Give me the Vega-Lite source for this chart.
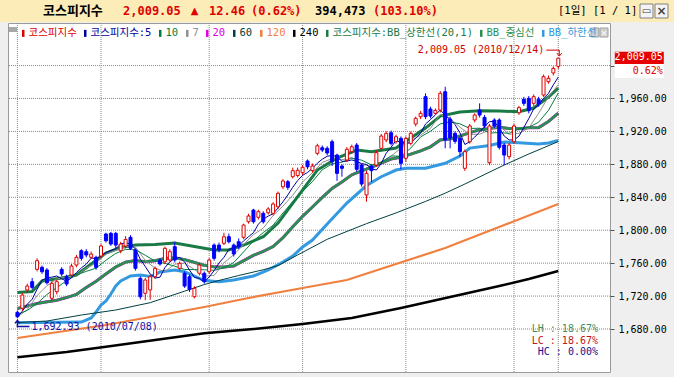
{
"$schema":"https://vega.github.io/schema/vega-lite/v6.json",
"width":602,"height":349,"autosize":"none",
"padding":{"left":8,"top":23,"right":64,"bottom":5},
"background":"#efefef",
"config":{"view":{"stroke":"#9a9a9a","fill":"#ffffff"}},
"resolve":{"axis":{"x":"independent","y":"independent"}},
"datasets":{
"gy":[{"v":1680},{"v":1720},{"v":1760},{"v":1800},{"v":1840},{"v":1880},{"v":1920},{"v":1960},{"v":2000}],
"gx":[{"i":0},{"i":17},{"i":39},{"i":58},{"i":79},{"i":101},{"i":110}],
"k":[
{"i":0,"o":1700.3,"h":1702.5,"l":1692.93,"c":1695},
{"i":1,"o":1705.1,"h":1723.5,"l":1702,"c":1721.3},
{"i":2,"o":1727.4,"h":1735,"l":1724,"c":1732.2},
{"i":3,"o":1737.5,"h":1742,"l":1728,"c":1730.6},
{"i":4,"o":1752.5,"h":1766,"l":1750,"c":1763},
{"i":5,"o":1754.9,"h":1757,"l":1747,"c":1749.6},
{"i":6,"o":1751.7,"h":1754,"l":1734,"c":1736.2},
{"i":7,"o":1717.3,"h":1738,"l":1714,"c":1735.5},
{"i":8,"o":1725.3,"h":1740,"l":1722,"c":1737.5},
{"i":9,"o":1752.5,"h":1755,"l":1744,"c":1746.8},
{"i":10,"o":1743.5,"h":1746,"l":1732,"c":1734.7},
{"i":11,"o":1745.6,"h":1759,"l":1743,"c":1756.5},
{"i":12,"o":1757.7,"h":1770,"l":1755,"c":1767.1},
{"i":13,"o":1775.1,"h":1777,"l":1763,"c":1765.9},
{"i":14,"o":1773.9,"h":1777,"l":1767,"c":1769.9},
{"i":15,"o":1767.1,"h":1774,"l":1765,"c":1771.1},
{"i":16,"o":1767.1,"h":1769,"l":1752,"c":1754.9},
{"i":17,"o":1768.7,"h":1783,"l":1766,"c":1780.8},
{"i":18,"o":1795.4,"h":1797,"l":1785,"c":1787.2},
{"i":19,"o":1796.2,"h":1798,"l":1781,"c":1783.2},
{"i":20,"o":1796.2,"h":1798,"l":1778,"c":1782},
{"i":21,"o":1775.1,"h":1786,"l":1772,"c":1783.2},
{"i":22,"o":1780.8,"h":1793,"l":1778,"c":1788.9},
{"i":23,"o":1791.4,"h":1794,"l":1776,"c":1778},
{"i":24,"o":1776,"h":1778,"l":1751,"c":1753.7},
{"i":25,"o":1741.6,"h":1744,"l":1716,"c":1719.2},
{"i":26,"o":1723.4,"h":1742,"l":1715,"c":1739.5},
{"i":27,"o":1727.4,"h":1746,"l":1715.5,"c":1743.5},
{"i":28,"o":1743.5,"h":1756,"l":1741,"c":1753.7},
{"i":29,"o":1763.8,"h":1766,"l":1757,"c":1759},
{"i":30,"o":1761.7,"h":1780,"l":1759,"c":1778},
{"i":31,"o":1763.8,"h":1777,"l":1761,"c":1773.9},
{"i":32,"o":1780,"h":1786,"l":1761,"c":1763.8},
{"i":33,"o":1753.7,"h":1762,"l":1751,"c":1759.8},
{"i":34,"o":1747.7,"h":1750,"l":1730,"c":1732.2},
{"i":35,"o":1743.5,"h":1746,"l":1725,"c":1728.2},
{"i":36,"o":1719.2,"h":1732,"l":1717.3,"c":1729.4},
{"i":37,"o":1747.7,"h":1760,"l":1745,"c":1757.7},
{"i":38,"o":1747.7,"h":1750,"l":1735,"c":1737.5},
{"i":39,"o":1749.6,"h":1766,"l":1747,"c":1763.8},
{"i":40,"o":1782,"h":1784,"l":1763,"c":1765.9},
{"i":41,"o":1782,"h":1785,"l":1773,"c":1776},
{"i":42,"o":1784.1,"h":1797,"l":1782,"c":1792.1},
{"i":43,"o":1792.1,"h":1796,"l":1784,"c":1786},
{"i":44,"o":1782,"h":1784,"l":1768,"c":1771.1},
{"i":45,"o":1786,"h":1790,"l":1777,"c":1780},
{"i":46,"o":1791.4,"h":1808,"l":1789,"c":1806.3},
{"i":47,"o":1810.3,"h":1820,"l":1808,"c":1817.3},
{"i":48,"o":1824.5,"h":1826,"l":1808,"c":1810.3},
{"i":49,"o":1815.7,"h":1825,"l":1813,"c":1822.5},
{"i":50,"o":1820.5,"h":1823,"l":1808,"c":1810.3},
{"i":51,"o":1821.3,"h":1828,"l":1819,"c":1825.8},
{"i":52,"o":1820.5,"h":1834,"l":1818,"c":1831.8},
{"i":53,"o":1828.5,"h":1847,"l":1826,"c":1844.8},
{"i":54,"o":1852.8,"h":1862,"l":1850,"c":1859.8},
{"i":55,"o":1858.9,"h":1861,"l":1849,"c":1852.1},
{"i":56,"o":1865,"h":1876,"l":1863,"c":1872.3},
{"i":57,"o":1866.5,"h":1876,"l":1864,"c":1872.8},
{"i":58,"o":1869.8,"h":1879,"l":1867,"c":1876.4},
{"i":59,"o":1884.1,"h":1886,"l":1874,"c":1877},
{"i":60,"o":1872.3,"h":1881,"l":1870,"c":1878},
{"i":61,"o":1893.4,"h":1905,"l":1891,"c":1902.6},
{"i":62,"o":1900.2,"h":1903,"l":1895,"c":1897.4},
{"i":63,"o":1899.5,"h":1902,"l":1891,"c":1893.8},
{"i":64,"o":1907.5,"h":1910,"l":1878,"c":1883.2},
{"i":65,"o":1891.3,"h":1893,"l":1860,"c":1869.1},
{"i":66,"o":1878,"h":1880,"l":1865,"c":1875.2},
{"i":67,"o":1885.3,"h":1901,"l":1883,"c":1898.3},
{"i":68,"o":1895.4,"h":1904,"l":1893,"c":1901.4},
{"i":69,"o":1903.5,"h":1906,"l":1871,"c":1874},
{"i":70,"o":1879.2,"h":1881,"l":1853,"c":1856.1},
{"i":71,"o":1842.8,"h":1872,"l":1834.6,"c":1869.1},
{"i":72,"o":1878,"h":1880,"l":1858.6,"c":1872.3},
{"i":73,"o":1879.2,"h":1897,"l":1877,"c":1894.2},
{"i":74,"o":1899.5,"h":1917,"l":1897,"c":1914.4},
{"i":75,"o":1909.6,"h":1920,"l":1907,"c":1917.6},
{"i":76,"o":1918.4,"h":1921,"l":1903,"c":1905.5},
{"i":77,"o":1907.5,"h":1916,"l":1905,"c":1913.6},
{"i":78,"o":1911.6,"h":1914,"l":1874,"c":1881.3},
{"i":79,"o":1887.3,"h":1914,"l":1883,"c":1911.6},
{"i":80,"o":1905.5,"h":1920,"l":1903,"c":1917.6},
{"i":81,"o":1929,"h":1938,"l":1926,"c":1935.9},
{"i":82,"o":1937.9,"h":1945,"l":1935,"c":1942},
{"i":83,"o":1962.2,"h":1966.3,"l":1935,"c":1937.9},
{"i":84,"o":1947.2,"h":1950,"l":1936,"c":1938.7},
{"i":85,"o":1942,"h":1948,"l":1940,"c":1945.5},
{"i":86,"o":1946,"h":1969,"l":1943,"c":1966.3},
{"i":87,"o":1968.2,"h":1974.3,"l":1899.5,"c":1909.6},
{"i":88,"o":1935,"h":1938,"l":1899.5,"c":1912},
{"i":89,"o":1917.7,"h":1920,"l":1905,"c":1908},
{"i":90,"o":1911.6,"h":1914,"l":1889.3,"c":1895.4},
{"i":91,"o":1875.2,"h":1898,"l":1872,"c":1895.4},
{"i":92,"o":1907.5,"h":1929,"l":1905,"c":1926.6},
{"i":93,"o":1933.9,"h":1942,"l":1931,"c":1939.9},
{"i":94,"o":1946,"h":1954.1,"l":1937,"c":1939.9},
{"i":95,"o":1937.1,"h":1940,"l":1924,"c":1926.6},
{"i":96,"o":1882,"h":1929,"l":1879,"c":1926.6},
{"i":97,"o":1933.9,"h":1936,"l":1924,"c":1926.6},
{"i":98,"o":1933.9,"h":1936,"l":1898,"c":1900.7},
{"i":99,"o":1903.5,"h":1906,"l":1879.2,"c":1891.3},
{"i":100,"o":1889.3,"h":1906,"l":1886,"c":1903.5},
{"i":101,"o":1907.5,"h":1929,"l":1905,"c":1926.6},
{"i":102,"o":1942.7,"h":1951,"l":1940,"c":1948.8},
{"i":103,"o":1959,"h":1962,"l":1951,"c":1954.1},
{"i":104,"o":1960.2,"h":1963,"l":1942,"c":1945.2},
{"i":105,"o":1954.1,"h":1965,"l":1951,"c":1962.2},
{"i":106,"o":1959,"h":1962,"l":1950,"c":1953.3},
{"i":107,"o":1964.2,"h":1989,"l":1962,"c":1986.5},
{"i":108,"o":1980.4,"h":1988,"l":1978,"c":1984.5},
{"i":109,"o":1991,"h":1999,"l":1988,"c":1996.59},
{"i":110,"o":1999,"h":2009.05,"l":1996,"c":2009.05}
],
"ma5":[
{"i":0,"v":1694.4},{"i":1,"v":1701.7},{"i":2,"v":1710.1},{"i":3,"v":1716.2},{"i":4,"v":1728.4},{"i":5,"v":1739.3},{"i":6,"v":1742.3},{"i":7,"v":1743},{"i":8,"v":1744.4},{"i":9,"v":1741.1},
{"i":10,"v":1738.1},{"i":11,"v":1742.2},{"i":12,"v":1748.5},{"i":13,"v":1754.2},{"i":14,"v":1758.8},{"i":15,"v":1766.1},{"i":16,"v":1765.8},{"i":17,"v":1768.5},{"i":18,"v":1772.8},{"i":19,"v":1775.4},
{"i":20,"v":1777.6},{"i":21,"v":1783.3},{"i":22,"v":1784.9},{"i":23,"v":1783.1},{"i":24,"v":1777.2},{"i":25,"v":1764.6},{"i":26,"v":1755.9},{"i":27,"v":1746.8},{"i":28,"v":1741.9},{"i":29,"v":1743},
{"i":30,"v":1754.7},{"i":31,"v":1761.6},{"i":32,"v":1765.7},{"i":33,"v":1766.9},{"i":34,"v":1761.5},{"i":35,"v":1751.6},{"i":36,"v":1742.7},{"i":37,"v":1741.5},{"i":38,"v":1737},{"i":39,"v":1743.3},
{"i":40,"v":1750.9},{"i":41,"v":1760.2},{"i":42,"v":1767.1},{"i":43,"v":1776.8},{"i":44,"v":1778.2},{"i":45,"v":1781},{"i":46,"v":1787.1},{"i":47,"v":1792.1},{"i":48,"v":1797},{"i":49,"v":1807.3},
{"i":50,"v":1813.3},{"i":51,"v":1817.2},{"i":52,"v":1820.1},{"i":53,"v":1827},{"i":54,"v":1834.5},{"i":55,"v":1842.9},{"i":56,"v":1852.2},{"i":57,"v":1860.4},{"i":58,"v":1866.7},{"i":59,"v":1870.1},
{"i":60,"v":1875.3},{"i":61,"v":1881.4},{"i":62,"v":1886.3},{"i":63,"v":1889.8},{"i":64,"v":1891},{"i":65,"v":1889.2},{"i":66,"v":1883.7},{"i":67,"v":1883.9},{"i":68,"v":1885.4},{"i":69,"v":1883.6},
{"i":70,"v":1881},{"i":71,"v":1879.8},{"i":72,"v":1874.6},{"i":73,"v":1873.1},{"i":74,"v":1881.2},{"i":75,"v":1893.5},{"i":76,"v":1900.8},{"i":77,"v":1909.1},{"i":78,"v":1906.5},{"i":79,"v":1905.9},
{"i":80,"v":1905.9},{"i":81,"v":1912},{"i":82,"v":1917.7},{"i":83,"v":1929},{"i":84,"v":1934.4},{"i":85,"v":1940},{"i":86,"v":1946.1},{"i":87,"v":1939.6},{"i":88,"v":1934.4},{"i":89,"v":1928.3},
{"i":90,"v":1918.3},{"i":91,"v":1904.1},{"i":92,"v":1907.5},{"i":93,"v":1913.1},{"i":94,"v":1919.4},{"i":95,"v":1925.7},{"i":96,"v":1931.9},{"i":97,"v":1931.9},{"i":98,"v":1924.1},{"i":99,"v":1914.4},
{"i":100,"v":1909.7},{"i":101,"v":1909.7},{"i":102,"v":1914.2},{"i":103,"v":1924.9},{"i":104,"v":1935.6},{"i":105,"v":1947.4},{"i":106,"v":1952.7},{"i":107,"v":1960.3},{"i":108,"v":1966.3},{"i":109,"v":1976.6},{"i":110,"v":1986}
],
"ma7":[
{"i":0,"v":1694.6},{"i":2,"v":1703.6},{"i":4,"v":1720.6},{"i":6,"v":1732.6},{"i":8,"v":1740.7},{"i":10,"v":1743.3},{"i":12,"v":1744.9},{"i":14,"v":1754.1},{"i":16,"v":1760},{"i":18,"v":1771},
{"i":20,"v":1775.6},{"i":22,"v":1780},{"i":24,"v":1779.5},{"i":26,"v":1763.5},{"i":28,"v":1753.8},{"i":30,"v":1749.5},{"i":32,"v":1758.8},{"i":34,"v":1760.1},{"i":36,"v":1752.2},{"i":38,"v":1744.1},
{"i":40,"v":1745},{"i":42,"v":1760.3},{"i":44,"v":1770.3},{"i":46,"v":1782.5},{"i":48,"v":1794.7},{"i":50,"v":1802.5},{"i":52,"v":1817.8},{"i":54,"v":1829.3},{"i":56,"v":1842.4},{"i":58,"v":1858.6},
{"i":60,"v":1869.8},{"i":62,"v":1882.4},{"i":64,"v":1886.9},{"i":66,"v":1885.6},{"i":68,"v":1888.3},{"i":70,"v":1879.6},{"i":72,"v":1878.1},{"i":74,"v":1883.1},{"i":76,"v":1889.9},{"i":78,"v":1899.8},
{"i":80,"v":1908.8},{"i":82,"v":1915.4},{"i":84,"v":1923.6},{"i":86,"v":1940.6},{"i":88,"v":1936},{"i":90,"v":1925.1},{"i":92,"v":1916.2},{"i":94,"v":1916.7},{"i":96,"v":1921.5},{"i":98,"v":1926.7},
{"i":100,"v":1916.5},{"i":102,"v":1917.7},{"i":104,"v":1924.3},{"i":106,"v":1942},{"i":108,"v":1962.1},{"i":110,"v":1976.8}
],
"ma10":[
{"i":0,"v":1697.7},{"i":2,"v":1702.6},{"i":4,"v":1710.9},{"i":6,"v":1722},{"i":8,"v":1730.3},{"i":10,"v":1738.7},{"i":12,"v":1745.8},{"i":14,"v":1750},{"i":16,"v":1754},{"i":18,"v":1763.5},
{"i":20,"v":1771.9},{"i":22,"v":1776.7},{"i":24,"v":1776.3},{"i":26,"v":1769.6},{"i":28,"v":1762.5},{"i":30,"v":1759.7},{"i":32,"v":1756.3},{"i":34,"v":1752.3},{"i":36,"v":1752.2},{"i":38,"v":1752},
{"i":40,"v":1751.3},{"i":42,"v":1754.3},{"i":44,"v":1760.8},{"i":46,"v":1773.7},{"i":48,"v":1786.9},{"i":50,"v":1797.2},{"i":52,"v":1806.1},{"i":54,"v":1820.9},{"i":56,"v":1834.7},{"i":58,"v":1846.9},
{"i":60,"v":1859.1},{"i":62,"v":1873.4},{"i":64,"v":1880.6},{"i":66,"v":1882.6},{"i":68,"v":1887.6},{"i":70,"v":1885.1},{"i":72,"v":1879.3},{"i":74,"v":1882.4},{"i":76,"v":1890.3},{"i":78,"v":1889.8},
{"i":80,"v":1899.7},{"i":82,"v":1913.4},{"i":84,"v":1920.2},{"i":86,"v":1929.1},{"i":88,"v":1931.7},{"i":90,"v":1929.2},{"i":92,"v":1923.6},{"i":94,"v":1923.9},{"i":96,"v":1918},{"i":98,"v":1918.6},
{"i":100,"v":1917.7},{"i":102,"v":1923.1},{"i":104,"v":1925},{"i":106,"v":1931.2},{"i":108,"v":1945.6},{"i":110,"v":1966.7}
],
"ma20":[
{"i":0,"v":1705},{"i":2,"v":1708},{"i":4,"v":1711},{"i":6,"v":1713},{"i":8,"v":1715},{"i":10,"v":1718.2},{"i":12,"v":1722},{"i":14,"v":1730.5},{"i":16,"v":1738},{"i":18,"v":1746.9},
{"i":20,"v":1755.3},{"i":22,"v":1761.3},{"i":24,"v":1763.2},{"i":26,"v":1761.8},{"i":28,"v":1763},{"i":30,"v":1765.8},{"i":32,"v":1766.5},{"i":34,"v":1764.3},{"i":36,"v":1760.9},{"i":38,"v":1757.3},
{"i":40,"v":1755.5},{"i":42,"v":1755.3},{"i":44,"v":1756.6},{"i":46,"v":1763},{"i":48,"v":1769.5},{"i":50,"v":1774.3},{"i":52,"v":1780.2},{"i":54,"v":1790.9},{"i":56,"v":1804.2},{"i":58,"v":1816.9},
{"i":60,"v":1828.2},{"i":62,"v":1839.8},{"i":64,"v":1850.8},{"i":66,"v":1858.7},{"i":68,"v":1867.3},{"i":70,"v":1872.1},{"i":72,"v":1876.4},{"i":74,"v":1881.5},{"i":76,"v":1886.5},{"i":78,"v":1888.7},
{"i":80,"v":1892.4},{"i":82,"v":1896.4},{"i":84,"v":1901.3},{"i":86,"v":1909.7},{"i":88,"v":1910.8},{"i":90,"v":1914.5},{"i":92,"v":1918.5},{"i":94,"v":1922.1},{"i":96,"v":1923.6},{"i":98,"v":1925.2},
{"i":100,"v":1923.5},{"i":102,"v":1923.4},{"i":104,"v":1924.5},{"i":106,"v":1924.6},{"i":108,"v":1932.1},{"i":110,"v":1942.2}
],
"bbu":[
{"i":0,"v":1724.3},{"i":3,"v":1725.5},{"i":5,"v":1738.3},{"i":9,"v":1741.9},{"i":12,"v":1745.6},{"i":15,"v":1758.9},{"i":18,"v":1772.3},{"i":21,"v":1779},{"i":24,"v":1782},{"i":28,"v":1782.6},
{"i":32,"v":1784.5},{"i":36,"v":1780.2},{"i":40,"v":1776},{"i":43,"v":1776},{"i":46,"v":1782},{"i":50,"v":1792.1},{"i":53,"v":1808.7},{"i":57,"v":1840.7},{"i":61,"v":1873.1},{"i":65,"v":1887.7},
{"i":69,"v":1897.4},{"i":72,"v":1895.4},{"i":77,"v":1899.8},{"i":80,"v":1912},{"i":83,"v":1924.1},{"i":86,"v":1938.7},{"i":90,"v":1943.6},{"i":94,"v":1945.1},{"i":98,"v":1944.8},{"i":102,"v":1943.9},
{"i":105,"v":1948.4},{"i":108,"v":1961.8},{"i":110,"v":1972.7}
],
"bbl":[
{"i":0,"v":1687.7},{"i":13,"v":1688.5},{"i":15,"v":1693.4},{"i":16,"v":1700.6},{"i":17,"v":1709.2},{"i":18,"v":1714},{"i":19,"v":1722.5},{"i":20,"v":1732.2},{"i":21,"v":1738.3},{"i":23,"v":1744.4},
{"i":25,"v":1745.6},{"i":27,"v":1743.8},{"i":29,"v":1749.2},{"i":32,"v":1751.7},{"i":34,"v":1749.6},{"i":38,"v":1738.9},{"i":41,"v":1737.5},{"i":44,"v":1739.5},{"i":48,"v":1744.4},{"i":51,"v":1751.7},
{"i":54,"v":1761.4},{"i":56,"v":1768.7},{"i":58,"v":1779.6},{"i":60,"v":1788.1},{"i":63,"v":1807.5},{"i":67,"v":1833},{"i":71,"v":1854.3},{"i":74,"v":1865},{"i":77,"v":1873.1},{"i":79,"v":1875.2},
{"i":83,"v":1875.2},{"i":87,"v":1881.3},{"i":90,"v":1890.1},{"i":92,"v":1899.8},{"i":96,"v":1902.9},{"i":99,"v":1907.1},{"i":102,"v":1906.3},{"i":106,"v":1904.7},{"i":108,"v":1906},{"i":110,"v":1909}
],
"ma60":[
{"i":0,"v":1687.9},{"i":6,"v":1689.7},{"i":13,"v":1697},{"i":20,"v":1703.1},{"i":27,"v":1712},{"i":34,"v":1726},{"i":38,"v":1734},{"i":41,"v":1739},{"i":45,"v":1745},{"i":50,"v":1752},
{"i":53,"v":1757},{"i":57,"v":1770},{"i":63,"v":1789},{"i":71,"v":1808},{"i":77,"v":1821},{"i":83,"v":1835},{"i":87,"v":1845},{"i":91,"v":1856.1},{"i":99,"v":1879.2},{"i":104,"v":1892.6},{"i":110,"v":1907.7}
],
"ma120":[
{"i":0,"v":1669.1},{"i":18,"v":1684.9},{"i":27,"v":1694.6},{"i":38,"v":1706.7},{"i":47,"v":1717.7},{"i":58,"v":1729.8},{"i":67,"v":1739.5},{"i":77,"v":1758.9},{"i":87,"v":1778.4},{"i":99,"v":1806.3},{"i":110,"v":1831.8}
],
"ma240":[
{"i":0,"v":1645.6},{"i":10,"v":1652.1},{"i":18,"v":1658.5},{"i":28,"v":1666.6},{"i":38,"v":1674.8},{"i":48,"v":1680},{"i":58,"v":1686.1},{"i":68,"v":1693.4},{"i":78,"v":1705.5},{"i":88,"v":1718.9},{"i":98,"v":1732.2},{"i":104,"v":1740.7},{"i":110,"v":1750.4}
]
},
"layer":[
{"data":{"values":[{}]},"mark":{"type":"rect","color":"#fbecb8"},
"encoding":{"x":{"value":-8},"x2":{"value":666},"y":{"value":-23},"y2":{"value":-1}}},
{"data":{"values":[{}]},"mark":{"type":"text","text":"코스피지수","font":"Noto Sans CJK KR","fontSize":13,"fontWeight":"bold","color":"#000000","align":"left","baseline":"middle"},
"encoding":{"x":{"value":35},"y":{"value":-12}}},
{"data":{"values":[{}]},"mark":{"type":"text","text":"2,009.05","font":"DejaVu Sans Mono","fontSize":12,"fontWeight":"bold","color":"#e00000","align":"left","baseline":"middle"},
"encoding":{"x":{"value":115},"y":{"value":-12}}},
{"data":{"values":[{}]},"mark":{"type":"text","text":"▲","font":"DejaVu Sans","fontSize":10,"color":"#e00000","align":"center","baseline":"middle"},
"encoding":{"x":{"value":186.5},"y":{"value":-12}}},
{"data":{"values":[{}]},"mark":{"type":"text","text":"12.46","font":"DejaVu Sans Mono","fontSize":12,"fontWeight":"bold","color":"#e00000","align":"left","baseline":"middle"},
"encoding":{"x":{"value":201},"y":{"value":-12}}},
{"data":{"values":[{}]},"mark":{"type":"text","text":"(0.62%)","font":"DejaVu Sans Mono","fontSize":12,"fontWeight":"bold","color":"#e00000","align":"left","baseline":"middle"},
"encoding":{"x":{"value":243},"y":{"value":-12}}},
{"data":{"values":[{}]},"mark":{"type":"text","text":"394,473","font":"DejaVu Sans Mono","fontSize":12,"fontWeight":"bold","color":"#000000","align":"left","baseline":"middle"},
"encoding":{"x":{"value":307},"y":{"value":-12}}},
{"data":{"values":[{}]},"mark":{"type":"text","text":"(103.10%)","font":"DejaVu Sans Mono","fontSize":12,"fontWeight":"bold","color":"#e00000","align":"left","baseline":"middle"},
"encoding":{"x":{"value":365},"y":{"value":-12}}},
{"data":{"values":[{}]},"mark":{"type":"text","text":"[1일] [1 / 1]","font":"DejaVu Sans Mono, Noto Sans CJK KR","fontSize":10.5,"color":"#000000","align":"left","baseline":"middle"},
"encoding":{"x":{"value":550},"y":{"value":-12}}},
{"data":{"values":[{}]},"mark":{"type":"rect","fill":"#f4f4f4","stroke":"#808080","strokeWidth":1},
"encoding":{"x":{"value":632},"x2":{"value":645},"y":{"value":-19},"y2":{"value":-5}}},
{"data":{"values":[{}]},"mark":{"type":"rect","fill":"#f4f4f4","stroke":"#808080","strokeWidth":1},
"encoding":{"x":{"value":647},"x2":{"value":660},"y":{"value":-19},"y2":{"value":-5}}},
{"data":{"values":[{}]},"mark":{"type":"text","text":"×","font":"DejaVu Sans","fontSize":12,"fontWeight":"bold","color":"#404040","align":"center","baseline":"middle"},
"encoding":{"x":{"value":653.5},"y":{"value":-12}}},
{"data":{"values":[{}]},"mark":{"type":"text","text":"▭","font":"DejaVu Sans","fontSize":10,"color":"#404040","align":"center","baseline":"middle"},
"encoding":{"x":{"value":638.5},"y":{"value":-12}}},

{"data":{"name":"gy"},"mark":{"type":"rule","color":"#8a8a8a","strokeWidth":1,"strokeDash":[1,1],"opacity":1},
"encoding":{"y":{"field":"v","type":"quantitative","scale":{"domain":[1627.8,2051.7],"nice":false,"zero":false},"axis":null}}},
{"data":{"name":"gx"},"mark":{"type":"rule","color":"#8a8a8a","strokeWidth":1,"strokeDash":[1,1],"opacity":1},
"encoding":{"x":{"field":"i","type":"quantitative","scale":{"domain":[-0.9,119.5],"nice":false,"zero":false},"axis":null}}},

{"data":{"name":"ma240"},"mark":{"type":"line","strokeWidth":2.5},
"encoding":{
"x":{"field":"i","type":"quantitative","scale":{"domain":[-0.9,119.5],"nice":false,"zero":false},"axis":null},
"y":{"field":"v","type":"quantitative","scale":{"domain":[1627.8,2051.7],"nice":false,"zero":false},
"axis":{"orient":"right","values":[1680,1720,1760,1800,1840,1880,1920,1960,2000],"labelExpr":"datum.value >= 2000 ? '' : format(datum.value, ',.2f')","grid":false,"tickSize":4,"tickColor":"#555555","labelFont":"DejaVu Sans Mono","labelFontSize":10,"labelColor":"#000000","labelPadding":4,"domain":false,"title":null}},
"color":{"datum":"240","type":"nominal",
"scale":{"domain":["코스피지수","코스피지수:5","10","7","20","60","120","240","코스피지수:BB_상한선(20,1)","BB_중심선","BB_하한선"],"range":["#e00000","#0000a0","#008040","#909090","#e000e0","#004040","#f08040","#000000","#1a7a45","#2a9050","#3399e0"]},
"legend":{"title":null,"orient":"none","legendX":7,"legendY":5,"direction":"horizontal","columns":11,"symbolType":"M0,-2V2","symbolSize":12.25,"symbolStrokeWidth":2.5,"symbolOffset":3,"labelFont":"DejaVu Sans Mono, Noto Sans CJK KR","labelFontSize":10.5,"labelOffset":0,"columnPadding":0,"padding":0,"labelLimit":300,"labelColor":{"expr":"scale('color', datum.value)"}}}}},
{"data":{"name":"ma120"},"mark":{"type":"line","strokeWidth":2.2},
"encoding":{"x":{"field":"i","type":"quantitative","scale":{"domain":[-0.9,119.5],"nice":false,"zero":false},"axis":null},"y":{"field":"v","type":"quantitative","scale":{"domain":[1627.8,2051.7],"nice":false,"zero":false},"axis":null},
"color":{"datum":"120","type":"nominal","scale":{"domain":["코스피지수","코스피지수:5","10","7","20","60","120","240","코스피지수:BB_상한선(20,1)","BB_중심선","BB_하한선"],"range":["#e00000","#0000a0","#008040","#909090","#e000e0","#004040","#f08040","#000000","#1a7a45","#2a9050","#3399e0"]},"legend":null}}},
{"data":{"name":"bbl"},"mark":{"type":"line","strokeWidth":3},
"encoding":{"x":{"field":"i","type":"quantitative","scale":{"domain":[-0.9,119.5],"nice":false,"zero":false},"axis":null},"y":{"field":"v","type":"quantitative","scale":{"domain":[1627.8,2051.7],"nice":false,"zero":false},"axis":null},
"color":{"datum":"BB_하한선","type":"nominal","scale":{"domain":["코스피지수","코스피지수:5","10","7","20","60","120","240","코스피지수:BB_상한선(20,1)","BB_중심선","BB_하한선"],"range":["#e00000","#0000a0","#008040","#909090","#e000e0","#004040","#f08040","#000000","#1a7a45","#2a9050","#3399e0"]},"legend":null}}},
{"data":{"name":"ma20"},"mark":{"type":"line","strokeWidth":3},
"encoding":{"x":{"field":"i","type":"quantitative","scale":{"domain":[-0.9,119.5],"nice":false,"zero":false},"axis":null},"y":{"field":"v","type":"quantitative","scale":{"domain":[1627.8,2051.7],"nice":false,"zero":false},"axis":null},
"color":{"datum":"20","type":"nominal","scale":{"domain":["코스피지수","코스피지수:5","10","7","20","60","120","240","코스피지수:BB_상한선(20,1)","BB_중심선","BB_하한선"],"range":["#e00000","#0000a0","#008040","#909090","#e000e0","#004040","#f08040","#000000","#1a7a45","#2a9050","#3399e0"]},"legend":null}}},
{"data":{"name":"ma20"},"mark":{"type":"line","strokeWidth":2.7},
"encoding":{"x":{"field":"i","type":"quantitative","scale":{"domain":[-0.9,119.5],"nice":false,"zero":false},"axis":null},"y":{"field":"v","type":"quantitative","scale":{"domain":[1627.8,2051.7],"nice":false,"zero":false},"axis":null},
"color":{"datum":"BB_중심선","type":"nominal","scale":{"domain":["코스피지수","코스피지수:5","10","7","20","60","120","240","코스피지수:BB_상한선(20,1)","BB_중심선","BB_하한선"],"range":["#e00000","#0000a0","#008040","#909090","#e000e0","#004040","#f08040","#000000","#1a7a45","#2a9050","#3399e0"]},"legend":null}}},
{"data":{"name":"bbu"},"mark":{"type":"line","strokeWidth":3},
"encoding":{"x":{"field":"i","type":"quantitative","scale":{"domain":[-0.9,119.5],"nice":false,"zero":false},"axis":null},"y":{"field":"v","type":"quantitative","scale":{"domain":[1627.8,2051.7],"nice":false,"zero":false},"axis":null},
"color":{"datum":"코스피지수:BB_상한선(20,1)","type":"nominal","scale":{"domain":["코스피지수","코스피지수:5","10","7","20","60","120","240","코스피지수:BB_상한선(20,1)","BB_중심선","BB_하한선"],"range":["#e00000","#0000a0","#008040","#909090","#e000e0","#004040","#f08040","#000000","#1a7a45","#2a9050","#3399e0"]},"legend":null}}},
{"data":{"name":"ma60"},"mark":{"type":"line","strokeWidth":1},
"encoding":{"x":{"field":"i","type":"quantitative","scale":{"domain":[-0.9,119.5],"nice":false,"zero":false},"axis":null},"y":{"field":"v","type":"quantitative","scale":{"domain":[1627.8,2051.7],"nice":false,"zero":false},"axis":null},
"color":{"datum":"60","type":"nominal","scale":{"domain":["코스피지수","코스피지수:5","10","7","20","60","120","240","코스피지수:BB_상한선(20,1)","BB_중심선","BB_하한선"],"range":["#e00000","#0000a0","#008040","#909090","#e000e0","#004040","#f08040","#000000","#1a7a45","#2a9050","#3399e0"]},"legend":null}}},
{"data":{"name":"ma7"},"mark":{"type":"line","strokeWidth":1},
"encoding":{"x":{"field":"i","type":"quantitative","scale":{"domain":[-0.9,119.5],"nice":false,"zero":false},"axis":null},"y":{"field":"v","type":"quantitative","scale":{"domain":[1627.8,2051.7],"nice":false,"zero":false},"axis":null},
"color":{"datum":"7","type":"nominal","scale":{"domain":["코스피지수","코스피지수:5","10","7","20","60","120","240","코스피지수:BB_상한선(20,1)","BB_중심선","BB_하한선"],"range":["#e00000","#0000a0","#008040","#909090","#e000e0","#004040","#f08040","#000000","#1a7a45","#2a9050","#3399e0"]},"legend":null}}},
{"data":{"name":"ma10"},"mark":{"type":"line","strokeWidth":1},
"encoding":{"x":{"field":"i","type":"quantitative","scale":{"domain":[-0.9,119.5],"nice":false,"zero":false},"axis":null},"y":{"field":"v","type":"quantitative","scale":{"domain":[1627.8,2051.7],"nice":false,"zero":false},"axis":null},
"color":{"datum":"10","type":"nominal","scale":{"domain":["코스피지수","코스피지수:5","10","7","20","60","120","240","코스피지수:BB_상한선(20,1)","BB_중심선","BB_하한선"],"range":["#e00000","#0000a0","#008040","#909090","#e000e0","#004040","#f08040","#000000","#1a7a45","#2a9050","#3399e0"]},"legend":null}}},
{"data":{"name":"ma5"},"mark":{"type":"line","strokeWidth":1},
"encoding":{"x":{"field":"i","type":"quantitative","scale":{"domain":[-0.9,119.5],"nice":false,"zero":false},"axis":null},"y":{"field":"v","type":"quantitative","scale":{"domain":[1627.8,2051.7],"nice":false,"zero":false},"axis":null},
"color":{"datum":"코스피지수:5","type":"nominal","scale":{"domain":["코스피지수","코스피지수:5","10","7","20","60","120","240","코스피지수:BB_상한선(20,1)","BB_중심선","BB_하한선"],"range":["#e00000","#0000a0","#008040","#909090","#e000e0","#004040","#f08040","#000000","#1a7a45","#2a9050","#3399e0"]},"legend":null}}},

{"data":{"name":"k"},"mark":{"type":"rule","strokeWidth":1},
"encoding":{"x":{"field":"i","type":"quantitative","scale":{"domain":[-0.9,119.5],"nice":false,"zero":false},"axis":null},"y":{"field":"l","type":"quantitative","scale":{"domain":[1627.8,2051.7],"nice":false,"zero":false},"axis":null},"y2":{"field":"h"},
"color":{"condition":{"test":"datum.c >= datum.o","value":"#e00000"},"value":"#0000ff"}}},
{"data":{"name":"k"},"mark":{"type":"bar","width":3,"strokeWidth":1},
"encoding":{"x":{"field":"i","type":"quantitative","scale":{"domain":[-0.9,119.5],"nice":false,"zero":false},"axis":null},"y":{"field":"o","type":"quantitative","scale":{"domain":[1627.8,2051.7],"nice":false,"zero":false},"axis":null},"y2":{"field":"c"},
"fill":{"condition":{"test":"datum.c >= datum.o","value":"#ffffff"},"value":"#0000ff"},
"stroke":{"condition":{"test":"datum.c >= datum.o","value":"#e00000"},"value":"#0000ff"}}},

{"data":{"values":[{"i":110,"v":2009.05,"t":"2,009.05 (2010/12/14)"}]},"mark":{"type":"text","font":"DejaVu Sans Mono","fontSize":10,"color":"#d00000","align":"right","baseline":"middle","dx":-14,"dy":-8},
"encoding":{"x":{"field":"i","type":"quantitative","scale":{"domain":[-0.9,119.5],"nice":false,"zero":false},"axis":null},"y":{"field":"v","type":"quantitative","scale":{"domain":[1627.8,2051.7],"nice":false,"zero":false},"axis":null},"text":{"field":"t"}}},
{"data":{"values":[{"i":110,"v":2009.05}]},"mark":{"type":"point","shape":"M-12,-8H1V-2.5M-1.5,-5L1,-2L3.5,-5","size":4,"filled":false,"color":"#d00000","strokeWidth":1,"opacity":1},
"encoding":{"x":{"field":"i","type":"quantitative","scale":{"domain":[-0.9,119.5],"nice":false,"zero":false},"axis":null},"y":{"field":"v","type":"quantitative","scale":{"domain":[1627.8,2051.7],"nice":false,"zero":false},"axis":null}}},
{"data":{"values":[{"i":0,"v":1692.93,"t":"1,692.93 (2010/07/08)"}]},"mark":{"type":"text","font":"DejaVu Sans Mono","fontSize":10,"color":"#1010a0","align":"left","baseline":"middle","dx":14,"dy":9},
"encoding":{"x":{"field":"i","type":"quantitative","scale":{"domain":[-0.9,119.5],"nice":false,"zero":false},"axis":null},"y":{"field":"v","type":"quantitative","scale":{"domain":[1627.8,2051.7],"nice":false,"zero":false},"axis":null},"text":{"field":"t"}}},
{"data":{"values":[{"i":0,"v":1692.93}]},"mark":{"type":"point","shape":"M12,8H0V2.5M-2.5,5L0,2L2.5,5","size":4,"filled":false,"color":"#1010a0","strokeWidth":1.5,"opacity":1},
"encoding":{"x":{"field":"i","type":"quantitative","scale":{"domain":[-0.9,119.5],"nice":false,"zero":false},"axis":null},"y":{"field":"v","type":"quantitative","scale":{"domain":[1627.8,2051.7],"nice":false,"zero":false},"axis":null}}},
{"data":{"values":[{"i":110,"v":2009.05}]},"mark":{"type":"point","shape":"M56.5,-6.4H105.5V5.9H56.5Z","size":4,"filled":true,"color":"#e60000","strokeWidth":0,"opacity":1},
"encoding":{"x":{"field":"i","type":"quantitative","scale":{"domain":[-0.9,119.5],"nice":false,"zero":false},"axis":null},"y":{"field":"v","type":"quantitative","scale":{"domain":[1627.8,2051.7],"nice":false,"zero":false},"axis":null}}},
{"data":{"values":[{"i":110,"v":2009.05}]},"mark":{"type":"point","shape":"M56.5,5.9H105.5V20H56.5Z","size":4,"filled":true,"color":"#ffffff","strokeWidth":0,"opacity":1},
"encoding":{"x":{"field":"i","type":"quantitative","scale":{"domain":[-0.9,119.5],"nice":false,"zero":false},"axis":null},"y":{"field":"v","type":"quantitative","scale":{"domain":[1627.8,2051.7],"nice":false,"zero":false},"axis":null}}},
{"data":{"values":[{"i":110,"v":2009.05,"p":"2,009.05","r":"0.62%"}]},"mark":{"type":"text","font":"DejaVu Sans Mono","fontSize":10,"color":"#ffffff","align":"right","baseline":"middle","dx":104.5,"dy":-1},
"encoding":{"x":{"field":"i","type":"quantitative","scale":{"domain":[-0.9,119.5],"nice":false,"zero":false},"axis":null},"y":{"field":"v","type":"quantitative","scale":{"domain":[1627.8,2051.7],"nice":false,"zero":false},"axis":null},"text":{"field":"p"}}},
{"data":{"values":[{"i":110,"v":2009.05,"p":"2,009.05","r":"0.62%"}]},"mark":{"type":"text","font":"DejaVu Sans Mono","fontSize":10,"color":"#e00000","align":"right","baseline":"middle","dx":104.5,"dy":13},
"encoding":{"x":{"field":"i","type":"quantitative","scale":{"domain":[-0.9,119.5],"nice":false,"zero":false},"axis":null},"y":{"field":"v","type":"quantitative","scale":{"domain":[1627.8,2051.7],"nice":false,"zero":false},"axis":null},"text":{"field":"r"}}},

{"data":{"values":[{}]},"mark":{"type":"rect","fill":"#a8a8a8"},
"encoding":{"x":{"value":1},"x2":{"value":9},"y":{"value":4},"y2":{"value":9}}},
{"data":{"values":[{}]},"mark":{"type":"rect","fill":"#d0d0d0","stroke":"#a0a0a0","strokeWidth":1},
"encoding":{"x":{"value":583},"x2":{"value":591},"y":{"value":5},"y2":{"value":14}}},
{"data":{"values":[{}]},"mark":{"type":"rect","fill":"#d0d0d0","stroke":"#a0a0a0","strokeWidth":1},
"encoding":{"x":{"value":592},"x2":{"value":600},"y":{"value":5},"y2":{"value":14}}},
{"data":{"values":[{}]},"mark":{"type":"text","text":"×","font":"DejaVu Sans","fontSize":9,"color":"#ffffff","align":"center","baseline":"middle"},
"encoding":{"x":{"value":596},"y":{"value":9.5}}},

{"data":{"values":[{}]},"mark":{"type":"text","text":"LH : 18.67%","font":"DejaVu Sans Mono","fontSize":10,"color":"#3f8f5f","align":"right","baseline":"middle"},
"encoding":{"x":{"value":590},"y":{"value":306}}},
{"data":{"values":[{}]},"mark":{"type":"text","text":"LC : 18.67%","font":"DejaVu Sans Mono","fontSize":10,"color":"#c01818","align":"right","baseline":"middle"},
"encoding":{"x":{"value":590},"y":{"value":317.7}}},
{"data":{"values":[{}]},"mark":{"type":"text","text":"HC :  0.00%","font":"DejaVu Sans Mono","fontSize":10,"color":"#101090","align":"right","baseline":"middle"},
"encoding":{"x":{"value":590},"y":{"value":329.3}}}
]
}
